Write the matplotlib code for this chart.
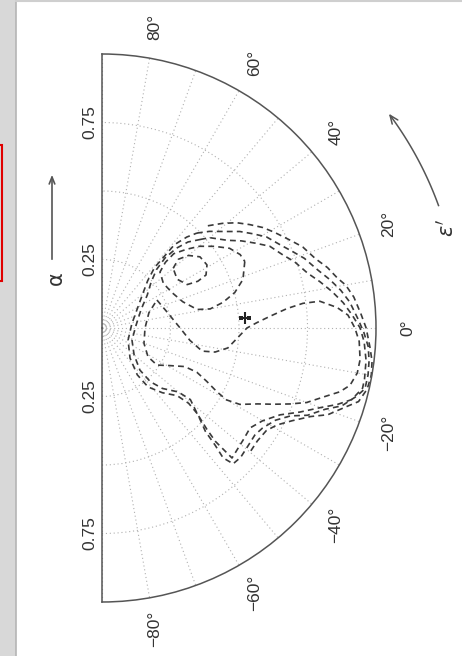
import numpy as np
import matplotlib
matplotlib.use('Agg')
import matplotlib.pyplot as plt
import matplotlib.transforms as mtransforms
from matplotlib.patches import Rectangle

# ---------------- data (theta in degrees, r = alpha) ----------------
c1_theta = [40, 42, 40, 36, 31, 27, 26, 27, 33, 40]
c1_r = [0.339, 0.375, 0.412, 0.442, 0.447, 0.426, 0.389, 0.349, 0.327, 0.339]

c2_theta = [25, 19, 15, 12, 10, 11, 18, 27, 36, 44, 46, 46, 43, 40, 36, 32, 28, 25]
c2_r = [0.575, 0.544, 0.502, 0.452, 0.401, 0.354, 0.310, 0.286, 0.277, 0.294,
        0.333, 0.377, 0.421, 0.464, 0.507, 0.549, 0.571, 0.575]

c3_theta = [27, 14, 0, -8, -13, -12, -9, -4, 0, 2, 4, 6, 7, 7, 5, 3, 0, -3, -7, -10,
            -13, -15, -17, -20, -22, -24, -26, -29, -30, -29, -27, -25, -25, -29, -34,
            -32, -20, 0, 18, 27]
c3_r = [0.225, 0.244, 0.285, 0.324, 0.375, 0.422, 0.465, 0.497, 0.529, 0.566,
        0.615, 0.679, 0.739, 0.801, 0.861, 0.899, 0.923, 0.940, 0.949, 0.946,
        0.929, 0.899, 0.853, 0.795, 0.740, 0.684, 0.632, 0.575, 0.525, 0.479,
        0.429, 0.382, 0.333, 0.283, 0.242, 0.198, 0.163, 0.157, 0.180, 0.225]

c4_theta = [42, 40, 35, 32, 29, 26, 22, 19, 15, 12, 9, 6, 3, 0, -3, -7, -11, -13, -16, -18,
            -20, -23, -26, -30, -34, -38, -43, -45, -45, -45, -44, -42, -39, -40, -45, -48,
            -48, -40, -22, 5, 25, 36, 43, 47, 48, 47, 45, 42]
c4_r = [0.483, 0.513, 0.558, 0.600, 0.639, 0.681, 0.712, 0.743, 0.776, 0.813,
        0.850, 0.885, 0.914, 0.942, 0.958, 0.971, 0.976, 0.976, 0.948, 0.903,
        0.849, 0.785, 0.723, 0.677, 0.652, 0.657, 0.666, 0.671, 0.637, 0.586,
        0.532, 0.468, 0.415, 0.363, 0.312, 0.264, 0.207, 0.153, 0.118, 0.125,
        0.157, 0.204, 0.245, 0.292, 0.344, 0.398, 0.444, 0.483]

c5_theta = [45, 42, 38, 35, 32, 29, 25, 22, 19, 15, 12, 9, 6, 2, -1, -4, -7, -10, -13, -15,
            -18, -20, -23, -25, -28, -32, -35, -39, -43, -46, -47, -46, -45, -42, -41, -42,
            -47, -52, -53, -47, -25, 8, 28, 40, 46, 49, 49, 49, 47, 45]
c5_r = [0.490, 0.527, 0.572, 0.614, 0.649, 0.686, 0.718, 0.748, 0.781, 0.816,
        0.850, 0.882, 0.909, 0.935, 0.956, 0.974, 0.982, 0.986, 0.985, 0.962,
        0.920, 0.867, 0.815, 0.759, 0.717, 0.690, 0.681, 0.685, 0.692, 0.689,
        0.648, 0.594, 0.534, 0.470, 0.419, 0.369, 0.323, 0.273, 0.214, 0.150,
        0.105, 0.110, 0.145, 0.194, 0.240, 0.292, 0.347, 0.403, 0.454, 0.490]

c6_theta = [44, 41, 38, 35, 32, 29, 25, 22, 18, 15, 12, 10, 7, 3, 0, -4, -7, -10, -13, -16,
            -18, -21, -23, -26, -29, -32, -36, -40]
c6_r = [0.537, 0.582, 0.624, 0.658, 0.692, 0.720, 0.758, 0.790, 0.819, 0.852,
        0.878, 0.903, 0.926, 0.947, 0.964, 0.980, 0.993, 0.998, 0.993, 0.974,
        0.934, 0.883, 0.827, 0.772, 0.730, 0.707, 0.701, 0.705]

peak_theta = [4]
peak_r = [0.523]

theta_labels = [-80, -60, -40, -20, 0, 20, 40, 60, 80]
r_labels = [0.25, 0.75]

contours = [(c1_theta, c1_r), (c2_theta, c2_r), (c3_theta, c3_r),
            (c4_theta, c4_r), (c5_theta, c5_r), (c6_theta, c6_r)]

# ---------------- figure ----------------
W, H = 462, 656
CX, CY, RP = 102, 328, 274   # layout of the half-disc in pixels

fig = plt.figure(figsize=(W/100, H/100), dpi=100)
fig.patch.set_facecolor('white')

bg = fig.add_axes([0, 0, 1, 1])
bg.set_xlim(0, W); bg.set_ylim(H, 0); bg.axis('off')
bg.add_patch(Rectangle((0, 0), 16, H, facecolor='#d8d8d8', edgecolor='none'))
bg.plot([16, 16], [0, H], color='#b5b5b5', lw=1.2)
bg.plot([16, W], [1, 1], color='#cfcfcf', lw=1.5)
bg.add_patch(Rectangle((-5, 145), 7, 136, facecolor='none', edgecolor='#e00000', lw=1.5))
bg.annotate('', xy=(52, 172), xytext=(52, 262),
            arrowprops=dict(arrowstyle='->,head_length=0.5,head_width=0.2', color='#555', lw=1.2))
bg.text(56, 278, 'α', rotation=90, ha='center', va='center', fontsize=15, color='#333')

S = 2*RP
ax = fig.add_axes([(CX + RP/2 - S/2)/W, (H - (CY + RP))/H, S/W, S/H], projection='polar')
ax.set_thetamin(-90); ax.set_thetamax(90)
ax.set_theta_zero_location('E')
ax.set_ylim(0, 1)
ax.set_xticks(np.deg2rad(np.arange(-90, 91, 10))); ax.set_xticklabels([])
ax.set_yticks([0.25, 0.5, 0.75]); ax.set_yticklabels([])
ax.tick_params(length=0)
ax.grid(True, linestyle=(0, (1, 2.5)), color='#b0b0b0', lw=0.8)
for s in ['polar', 'start', 'end']:
    ax.spines[s].set_color('#555'); ax.spines[s].set_linewidth(1.1)

for th, r in contours:
    ax.plot(np.deg2rad(th), r, color='#3a3a3a', lw=1.2, ls=(0, (3.5, 2.5)))
ax.plot(np.deg2rad(peak_theta), peak_r, ls='none', marker='+', ms=8, mew=1.5, color='#222')

for v in theta_labels:
    s = f"{v}°".replace('-', '\u2212')
    ax.text(np.deg2rad(v), 1.115, s, rotation=90, ha='center', va='center',
            fontsize=12.5, color='#333', family='Liberation Sans', clip_on=False)

off = mtransforms.offset_copy(ax.transData, fig=fig, x=-12, y=0, units='dots')
for rv in r_labels:
    for side in (90, -90):
        ax.text(np.deg2rad(side), rv, f"{rv:.2f}", transform=off, rotation=90,
                ha='center', va='center', fontsize=12.5, color='#333',
                family='Liberation Sans', clip_on=False)

# epsilon' direction arrow (arc outside the rim)
arc_th = np.deg2rad(np.linspace(20, 36, 30))
ax.plot(arc_th, np.full_like(arc_th, 1.307), color='#555', lw=1.1, clip_on=False)
ax.annotate('', xy=(np.deg2rad(37.2), 1.307), xytext=(np.deg2rad(35.5), 1.307),
            arrowprops=dict(arrowstyle='->,head_length=0.6,head_width=0.25', color='#555', lw=1.1),
            annotation_clip=False)
ax.text(np.deg2rad(16.2), 1.31, r"$\varepsilon'$", rotation=90, ha='center', va='center',
        fontsize=15, color='#333', clip_on=False)

fig.savefig('out.png', dpi=100)
